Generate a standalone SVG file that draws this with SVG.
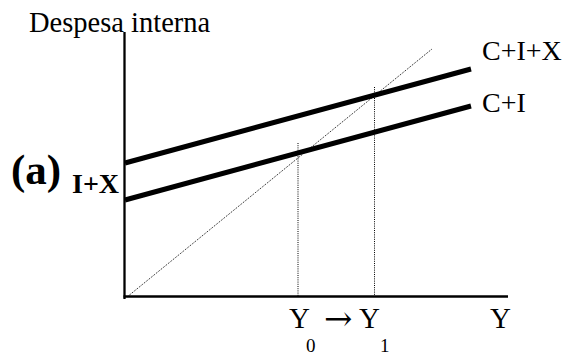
<svg xmlns="http://www.w3.org/2000/svg" width="565" height="354" viewBox="0 0 565 354">
<style>
.t{font-family:"Liberation Serif","Times New Roman",serif;fill:#000}
.b{font-weight:bold}
.arr{font-family:"DejaVu Serif","DejaVu Sans",serif;fill:#000}
.axis{stroke:#000;stroke-width:2.3;fill:none}
.thick{stroke:#000;stroke-width:5;fill:none}
.dot{stroke:#000;stroke-width:1;stroke-dasharray:1 1.2;fill:none}
</style>
<rect width="565" height="354" fill="#fff"/>
<g id="connectors">
<line class="dot" x1="127" y1="297" x2="432" y2="49"/>
<line class="dot" x1="298" y1="143" x2="298" y2="296"/>
<line class="dot" x1="374.5" y1="87" x2="374.5" y2="296"/>
</g>
<g id="axes">
<line class="axis" x1="124.5" y1="32" x2="124.5" y2="299"/>
<line class="axis" x1="123.5" y1="296.5" x2="508" y2="296.5"/>
</g>
<g id="curve-cix">
<line class="thick" x1="125" y1="163" x2="471" y2="69"/>
<text class="t" x="482" y="59.5" font-size="28">C+I+X</text>
</g>
<g id="curve-ci">
<line class="thick" x1="125" y1="200" x2="471" y2="106"/>
<text class="t" x="482" y="111.5" font-size="28">C+I</text>
</g>
<g id="labels">
<text class="t" x="29" y="32" font-size="28.5">Despesa interna</text>
<text class="t b" x="11" y="184" font-size="43">(a)</text>
<text class="t b" x="72" y="193" font-size="28">I+X</text>
<text class="t" x="289" y="328" font-size="29">Y</text>
<text class="arr" x="324" y="330" font-size="34">→</text>
<text class="t" x="359" y="328" font-size="29">Y</text>
<text class="t" x="306" y="351.5" font-size="19">0</text>
<text class="t" x="380" y="351.5" font-size="19">1</text>
<text class="t" x="490" y="328" font-size="29">Y</text>
</g>
</svg>
